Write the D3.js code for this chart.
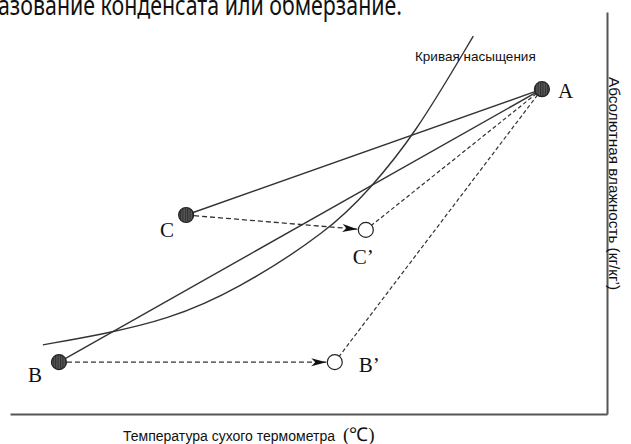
<!DOCTYPE html>
<html>
<head>
<meta charset="utf-8">
<script src="https://cdn.jsdelivr.net/npm/d3@7"></script>
<style>
  body { margin: 0; background: #fff; }
  svg { display: block; }
</style>
</head>
<body>
<div id="chart"></div>
<script>
var w = 631, h = 444;

// points on the chart (temperature, humidity) in arbitrary units
var names = ["A", "B", "C", "B'", "C'"];
var tempX = [89.1, 8.2, 29.5, 54.4, 59.6];
var humY = [80.8, 12.9, 49.5, 12.9, 45.8];
var filled = [true, true, true, false, false];

// saturation curve
var satX = [5.5, 15.1, 26.3, 38.0, 53.6, 60.1, 67.7, 77.6];
var satY = [17.2, 19.7, 23.4, 30.8, 45.8, 55.7, 69.2, 94.0];

// connections: [from, to, style]
var links = [
  ["C", "A", "solid"],
  ["B", "A", "solid"],
  ["C'", "A", "dash"],
  ["B'", "A", "dash"],
  ["C", "C'", "arrow"],
  ["B", "B'", "arrow"]
];

var svg = d3.select("#chart")
    .append("svg")
    .attr("width", w)
    .attr("height", h);

var x = d3.scaleLinear()
    .domain([0, 100])
    .range([10, 607]);

var y = d3.scaleLinear()
    .domain([0, 100])
    .range([414, 12]);

var defs = svg.append("defs");

var hatch = defs.append("pattern")
    .attr("id", "hatch")
    .attr("width", 2.4)
    .attr("height", 4)
    .attr("patternUnits", "userSpaceOnUse");
hatch.append("rect")
    .attr("width", 2.4)
    .attr("height", 4)
    .attr("fill", "#5a5a5a");
hatch.append("rect")
    .attr("width", 1.1)
    .attr("height", 4)
    .attr("fill", "#2e2e2e");

defs.append("marker")
    .attr("id", "arrow")
    .attr("markerUnits", "userSpaceOnUse")
    .attr("markerWidth", 16)
    .attr("markerHeight", 10)
    .attr("refX", 15)
    .attr("refY", 4)
    .attr("orient", "auto")
    .append("path")
    .attr("d", "M0,0 L15,4 L0,8 L4,4 Z")
    .attr("fill", "#111");

// top cut-off line of page text
svg.append("text")
    .attr("x", -2)
    .attr("y", 15)
    .attr("font-family", "'Noto Sans', 'Open Sans', sans-serif")
    .attr("font-size", 28)
    .attr("textLength", 404)
    .attr("lengthAdjust", "spacingAndGlyphs")
    .attr("fill", "#111")
    .text("азование конденсата или обмерзание.");

// axes
svg.append("g")
    .attr("transform", "translate(0," + y(0) + ")")
    .call(d3.axisBottom(x).ticks(0).tickSizeOuter(0))
    .select(".domain")
    .attr("stroke", "#555")
    .attr("stroke-width", 2);

svg.append("g")
    .attr("transform", "translate(" + x(100) + ",0)")
    .call(d3.axisRight(y).ticks(0).tickSizeOuter(0))
    .select(".domain")
    .attr("stroke", "#555")
    .attr("stroke-width", 2);

var pts = {};
names.forEach(function(n, i) {
  pts[n] = { x: x(tempX[i]), y: y(humY[i]), filled: filled[i] };
});
var r = 7.5;

// saturation curve
var satData = satX.map(function(d, i) { return [d, satY[i]]; });
svg.append("path")
    .datum(satData)
    .attr("fill", "none")
    .attr("stroke", "#333")
    .attr("stroke-width", 1.4)
    .attr("d", d3.line()
        .x(function(d) { return x(d[0]); })
        .y(function(d) { return y(d[1]); })
        .curve(d3.curveBasis));

// lines
links.forEach(function(l) {
  var a = pts[l[0]], b = pts[l[1]];
  var x2 = b.x, y2 = b.y;
  if (l[2] == "arrow") {
    var dx = b.x - a.x, dy = b.y - a.y, len = Math.sqrt(dx * dx + dy * dy);
    x2 = b.x - dx / len * (r + 1);
    y2 = b.y - dy / len * (r + 1);
  }
  var line = svg.append("line")
      .attr("x1", a.x)
      .attr("y1", a.y)
      .attr("x2", x2)
      .attr("y2", y2)
      .attr("stroke", "#333");
  if (l[2] == "solid") {
    line.attr("stroke-width", 1.4);
  } else if (l[2] == "dash") {
    line.attr("stroke-width", 1.2).attr("stroke-dasharray", "4,2.5");
  } else {
    line.attr("stroke-width", 1.3).attr("stroke-dasharray", "5,3")
        .attr("marker-end", "url(#arrow)");
  }
});

// points
names.forEach(function(n) {
  var p = pts[n];
  svg.append("circle")
      .attr("cx", p.x)
      .attr("cy", p.y)
      .attr("r", r)
      .attr("fill", p.filled ? "url(#hatch)" : "#fff")
      .attr("stroke", "#222")
      .attr("stroke-width", 1.2);
});

// point labels
var labelPos = {
  "A": [16, 9],
  "B": [-31, 20],
  "C": [-26, 22],
  "B'": [24, 10],
  "C'": [-13, 34]
};
names.forEach(function(n) {
  var p = pts[n];
  svg.append("text")
      .attr("x", p.x + labelPos[n][0])
      .attr("y", p.y + labelPos[n][1])
      .attr("font-family", "'Liberation Serif', 'Times New Roman', serif")
      .attr("font-size", 21)
      .attr("fill", "#111")
      .text(n.replace("'", "\u2019"));
});

svg.append("text")
    .attr("x", 415)
    .attr("y", 61)
    .attr("font-family", "'Liberation Sans', Arial, sans-serif")
    .attr("font-size", 13.5)
    .attr("fill", "#111")
    .text("Кривая насыщения");

var xLabel = svg.append("text")
    .attr("x", 123)
    .attr("y", 441)
    .attr("font-family", "'Liberation Sans', Arial, sans-serif")
    .attr("font-size", 14)
    .attr("fill", "#111");
xLabel.append("tspan")
    .text("Температура сухого термометра");
xLabel.append("tspan")
    .attr("dx", 8)
    .attr("font-family", "'Liberation Serif', serif")
    .attr("font-size", 19)
    .text("(\u2103)");

svg.append("text")
    .attr("transform", "translate(609,77) rotate(90)")
    .attr("font-family", "'Liberation Sans', Arial, sans-serif")
    .attr("font-size", 14)
    .attr("textLength", 213)
    .attr("lengthAdjust", "spacingAndGlyphs")
    .attr("fill", "#111")
    .text("Абсолютная влажность (кг/кг\u2019)");
</script>
</body>
</html>
